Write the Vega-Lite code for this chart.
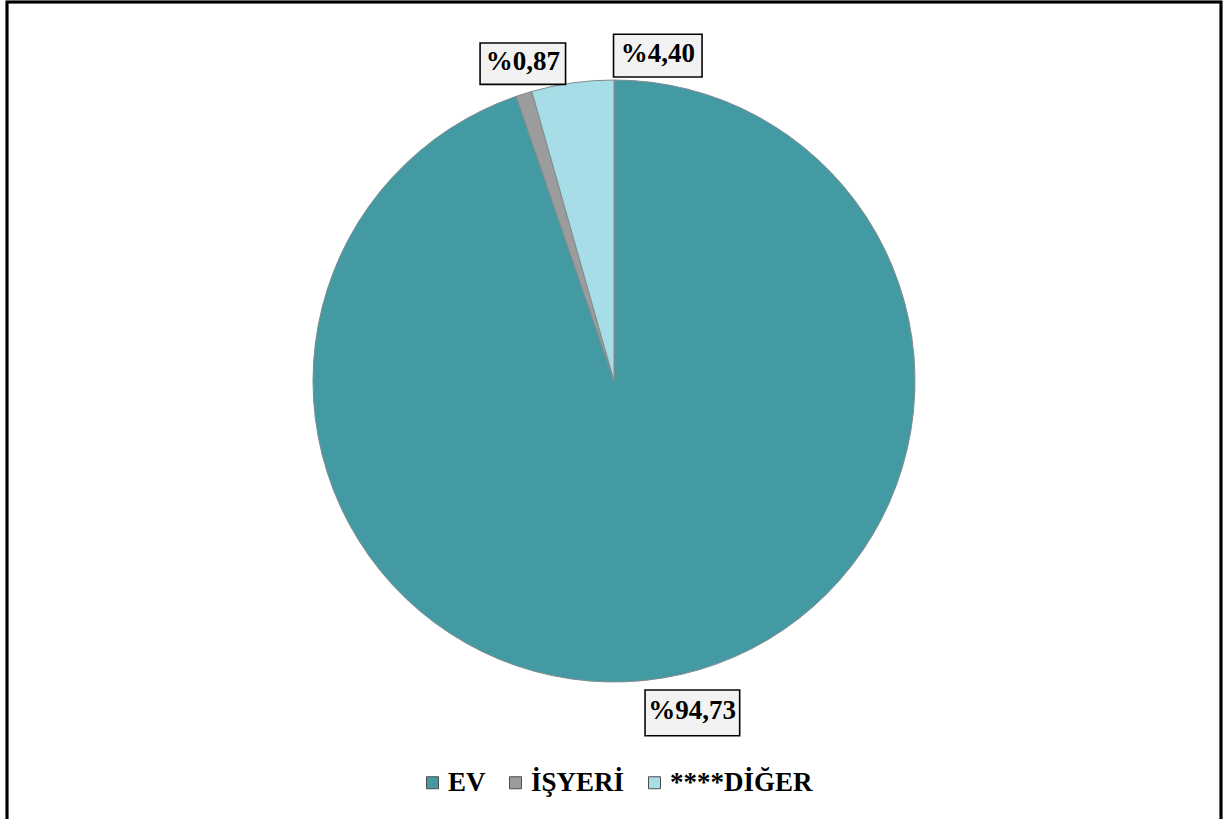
{
  "$schema": "https://vega.github.io/schema/vega-lite/v6.json",
  "autosize": {"type": "none"},
  "width": 1214,
  "height": 820,
  "padding": {"left": 7, "top": 2, "right": 3, "bottom": -3},
  "background": "white",
  "config": {"view": {"stroke": null}, "font": "Liberation Serif"},
  "data": {"values": [
    {"kategori": "EV", "deger": 94.73, "etiket": "%94,73", "sira": 1},
    {"kategori": "İŞYERİ", "deger": 0.87, "etiket": "%0,87", "sira": 2},
    {"kategori": "****DİĞER", "deger": 4.40, "etiket": "%4,40", "sira": 3}
  ]},
  "layer": [
    {
      "mark": {"type": "rect", "fill": "white", "fillOpacity": 0, "stroke": "black", "strokeWidth": 2.5},
      "encoding": {}
    },
    {
      "mark": {"type": "arc", "outerRadius": 301, "x": {"expr": "width/2"}, "y": {"expr": "height/2 - 31"}, "stroke": "#7f8c8e", "strokeWidth": 1},
      "encoding": {
        "theta": {"field": "deger", "type": "quantitative", "stack": true},
        "order": {"field": "sira", "type": "quantitative"},
        "color": {
          "field": "kategori", "type": "nominal",
          "scale": {"domain": ["EV", "İŞYERİ", "****DİĞER"], "range": ["#449aa3", "#9c9c9c", "#a6dde6"]},
          "legend": {
            "orient": "none", "legendX": 412, "legendY": 767, "direction": "horizontal", "title": null,
            "symbolType": "square", "symbolSize": 144, "symbolStrokeColor": "#4d4d4d", "symbolStrokeWidth": 1,
            "labelFont": "Liberation Serif", "labelFontSize": 27, "labelFontWeight": "bold", "labelColor": "black",
            "columnPadding": 16, "labelOffset": 2, "labelLimit": 300
          }
        }
      }
    },
    {
      "mark": {"type": "text", "radius": 335, "x": {"expr": "width/2"}, "y": {"expr": "height/2 - 31"}, "dx": 23, "dy": -3, "font": "DejaVu Sans", "fontSize": 124, "fill": "#f2f2f2", "stroke": "black", "strokeWidth": 1.6},
      "encoding": {
        "theta": {"field": "deger", "type": "quantitative", "stack": true},
        "order": {"field": "sira", "type": "quantitative"},
        "text": {"condition": {"test": "datum.kategori === 'EV'", "value": "▬"}, "value": ""}
      }
    },
    {
      "mark": {"type": "text", "radius": 335, "x": {"expr": "width/2"}, "y": {"expr": "height/2 - 31"}, "dx": 9, "dy": -2, "font": "DejaVu Sans", "fontSize": 112, "fill": "#f2f2f2", "stroke": "black", "strokeWidth": 1.6},
      "encoding": {
        "theta": {"field": "deger", "type": "quantitative", "stack": true},
        "order": {"field": "sira", "type": "quantitative"},
        "text": {"condition": {"test": "datum.kategori === 'İŞYERİ'", "value": "▬"}, "value": ""}
      }
    },
    {
      "mark": {"type": "text", "radius": 335, "x": {"expr": "width/2"}, "y": {"expr": "height/2 - 31"}, "dx": 90, "dy": 2, "font": "DejaVu Sans", "fontSize": 116, "fill": "#f2f2f2", "stroke": "black", "strokeWidth": 1.6},
      "encoding": {
        "theta": {"field": "deger", "type": "quantitative", "stack": true},
        "order": {"field": "sira", "type": "quantitative"},
        "text": {"condition": {"test": "datum.kategori === '****DİĞER'", "value": "▬"}, "value": ""}
      }
    },
    {
      "mark": {"type": "text", "radius": 335, "x": {"expr": "width/2"}, "y": {"expr": "height/2 - 31"}, "dx": 23, "font": "Liberation Serif", "fontSize": 27, "fontWeight": "bold", "fill": "black"},
      "encoding": {
        "theta": {"field": "deger", "type": "quantitative", "stack": true},
        "order": {"field": "sira", "type": "quantitative"},
        "text": {"condition": {"test": "datum.kategori === 'EV'", "field": "etiket"}, "value": ""}
      }
    },
    {
      "mark": {"type": "text", "radius": 335, "x": {"expr": "width/2"}, "y": {"expr": "height/2 - 31"}, "dx": 9, "dy": 1, "font": "Liberation Serif", "fontSize": 27, "fontWeight": "bold", "fill": "black"},
      "encoding": {
        "theta": {"field": "deger", "type": "quantitative", "stack": true},
        "order": {"field": "sira", "type": "quantitative"},
        "text": {"condition": {"test": "datum.kategori === 'İŞYERİ'", "field": "etiket"}, "value": ""}
      }
    },
    {
      "mark": {"type": "text", "radius": 335, "x": {"expr": "width/2"}, "y": {"expr": "height/2 - 31"}, "dx": 90, "dy": 5, "font": "Liberation Serif", "fontSize": 27, "fontWeight": "bold", "fill": "black"},
      "encoding": {
        "theta": {"field": "deger", "type": "quantitative", "stack": true},
        "order": {"field": "sira", "type": "quantitative"},
        "text": {"condition": {"test": "datum.kategori === '****DİĞER'", "field": "etiket"}, "value": ""}
      }
    }
  ]
}
